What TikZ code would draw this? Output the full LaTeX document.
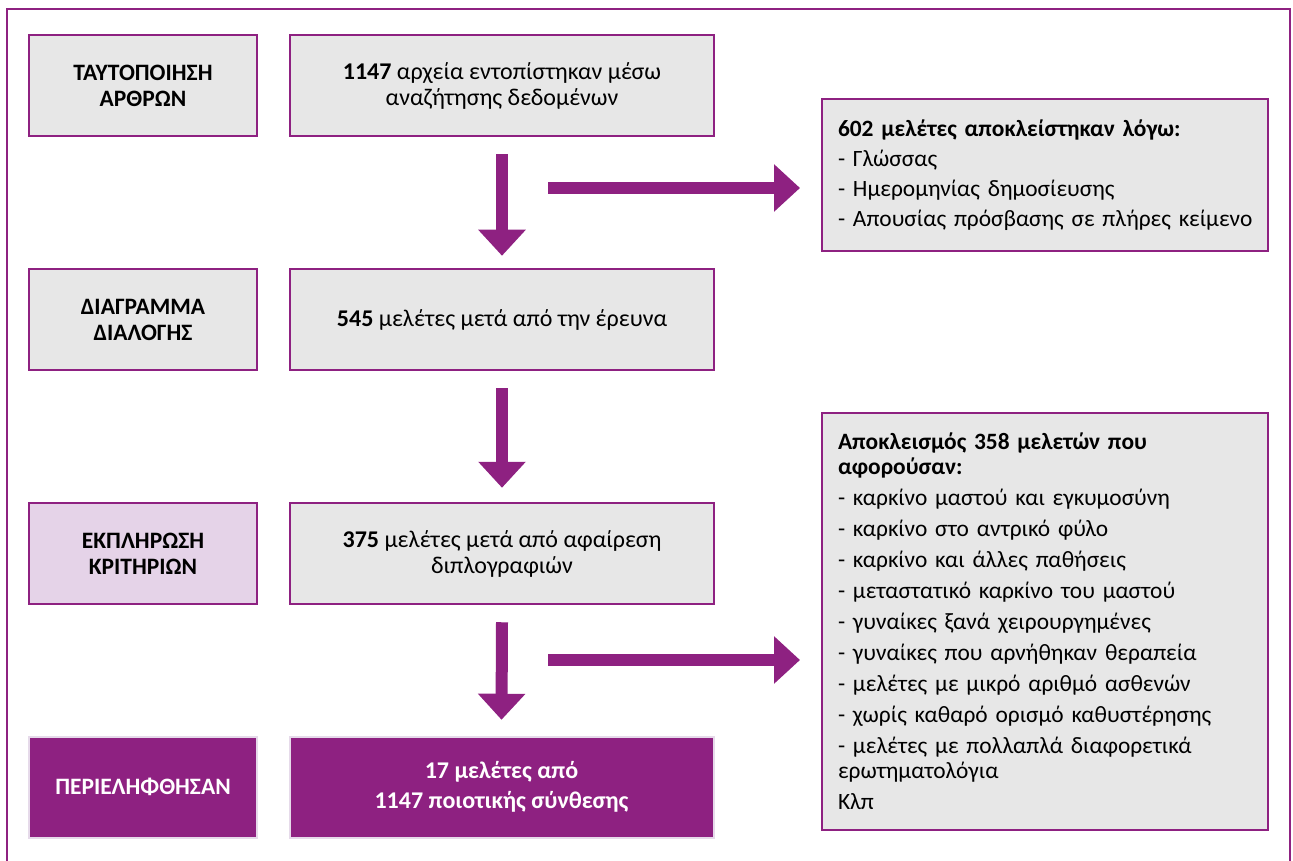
\documentclass[tikz,border=0pt]{standalone}
\usepackage{fontspec}
\setmainfont{Carlito}
\usetikzlibrary{arrows.meta,positioning}
\definecolor{prisma}{HTML}{8E2181}
\definecolor{boxgray}{HTML}{E7E7E7}
\definecolor{lilac}{HTML}{E5D3E8}
\definecolor{rim}{HTML}{E6DAEA}
\begin{document}
\begin{tikzpicture}[
  x=1pt, y=-1pt,
  font=\fontsize{24}{26}\selectfont,
  stage/.style={draw=prisma, line width=2.5pt, fill=boxgray, align=center,
                inner sep=0pt, minimum width=228pt, minimum height=101pt,
                font=\fontsize{23.5}{26}\selectfont\bfseries},
  count/.style={stage, minimum width=424pt, font=\fontsize{24}{26}\selectfont},
  final/.style={draw=rim, line width=2pt, fill=prisma, text=white},
  excl/.style={draw=prisma, line width=2.5pt, fill=boxgray, align=left,
               text width=414pt, inner xsep=16pt, inner ysep=0pt,
               font=\fontsize{23.4}{25}\selectfont},
  bigarr/.style={draw=prisma, line width=12pt, -{Triangle[width=46pt,length=26pt]}},
  frame/.style={draw=prisma, line width=2pt},
  node distance=130.5pt and 30.5pt
]
\useasboundingbox (0,0) rectangle (1293,861);
\draw[frame] (7,861) -- (7,9) -- (1290,9) -- (1290,861);

% stages on the left, counts beside them
\node[stage] (ident) at (143,85.5) {ΤΑΥΤΟΠΟΙΗΣΗ\\ΑΡΘΡΩΝ};
\node[stage, below=of ident] (screen) {ΔΙΑΓΡΑΜΜΑ\\ΔΙΑΛΟΓΗΣ};
\node[stage, fill=lilac, below=of screen] (elig) {ΕΚΠΛΗΡΩΣΗ\\ΚΡΙΤΗΡΙΩΝ};
\node[stage, final, below=of elig] (incl) {ΠΕΡΙΕΛΗΦΘΗΣΑΝ};
\node[count, right=of ident]  (found)   {\textbf{1147} αρχεία εντοπίστηκαν μέσω\\αναζήτησης δεδομένων};
\node[count, right=of screen] (after)   {\textbf{545} μελέτες μετά από την έρευνα};
\node[count, right=of elig]   (nodup)   {\textbf{375} μελέτες μετά από αφαίρεση\\διπλογραφιών};
\node[count, final, right=of incl, font=\fontsize{24}{30}\selectfont\bfseries] (kept)
  {17 μελέτες από\\1147 ποιοτικής σύνθεσης};

% exclusions
\node[excl, minimum height=152pt] (excA) at (1045,175)
  {\textbf{602 μελέτες αποκλείστηκαν λόγω:}\\[5pt]
   - Γλώσσας\\[5pt]
   - Ημερομηνίας δημοσίευσης\\[5pt]
   \mbox{- Απουσίας πρόσβασης σε πλήρες κείμενο}};
\node[excl, minimum height=417pt] (excB) at (1045,621.5)
  {\textbf{Αποκλεισμός 358 μελετών που}\\
   \textbf{αφορούσαν:}\\[6pt]
   - καρκίνο μαστού και εγκυμοσύνη\\[6pt]
   - καρκίνο στο αντρικό φύλο\\[6pt]
   - καρκίνο και άλλες παθήσεις\\[6pt]
   - μεταστατικό καρκίνο του μαστού\\[6pt]
   - γυναίκες ξανά χειρουργημένες\\[6pt]
   - γυναίκες που αρνήθηκαν θεραπεία\\[6pt]
   - μελέτες με μικρό αριθμό ασθενών\\[6pt]
   - χωρίς καθαρό ορισμό καθυστέρησης\\[6pt]
   - μελέτες με πολλαπλά διαφορετικά\\
   ερωτηματολόγια\\[6pt]
   Κλπ};

\coordinate (outA) at (548,188);
\coordinate (inA)  at (800,188);
\coordinate (outB) at (548,660);
\coordinate (inB)  at (800,660);

\draw[bigarr] ([yshift=-17pt]found.south) -- ([yshift=12pt]after.north);
\draw[bigarr] ([yshift=-17pt]after.south) -- ([yshift=14pt]nodup.north);
\draw[bigarr] ([yshift=-17pt]nodup.south) -- ([yshift=16pt]kept.north);
\draw[bigarr] (outA) -- (inA);
\draw[bigarr] (outB) -- (inB);
\end{tikzpicture}
\end{document}
